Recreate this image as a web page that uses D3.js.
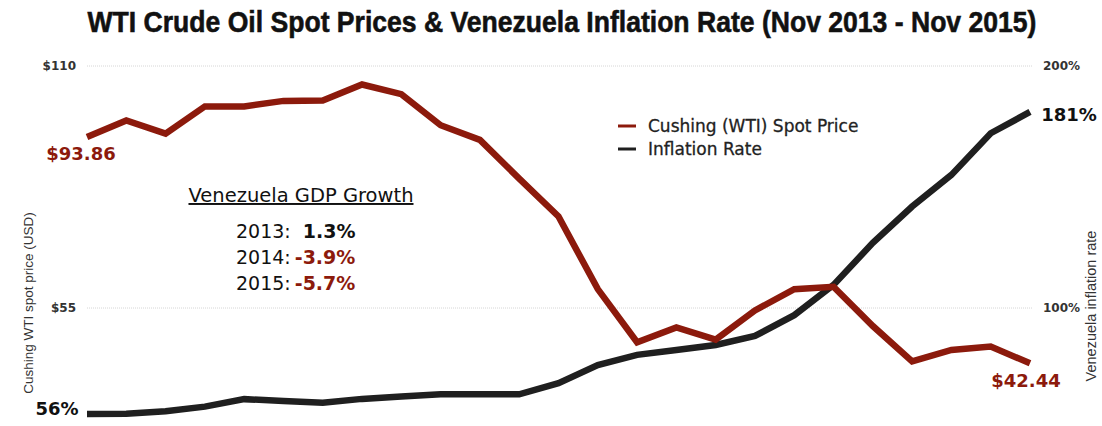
<!DOCTYPE html>
<html>
<head>
<meta charset="utf-8">
<script src="https://cdn.jsdelivr.net/npm/d3@7"></script>
<style>
  html, body { margin: 0; padding: 0; background: #fff; }
  svg { display: block; }
</style>
</head>
<body>
<svg id="chart" width="1102" height="426"></svg>
<script>
// ---- Data ----
const months = ["Nov 2013","Dec 2013","Jan 2014","Feb 2014","Mar 2014","Apr 2014","May 2014","Jun 2014",
  "Jul 2014","Aug 2014","Sep 2014","Oct 2014","Nov 2014","Dec 2014","Jan 2015","Feb 2015","Mar 2015",
  "Apr 2015","May 2015","Jun 2015","Jul 2015","Aug 2015","Sep 2015","Oct 2015","Nov 2015"];
const wtiPrice = [93.86, 97.63, 94.62, 100.82, 100.80, 102.07, 102.18, 105.79, 103.59, 96.54, 93.21,
  84.40, 75.79, 59.29, 47.22, 50.58, 47.82, 54.45, 59.27, 59.82, 50.90, 42.87, 45.48, 46.22, 42.44];
const inflation = [56.2, 56.3, 57.3, 59.2, 62.3, 61.5, 60.8, 62.4, 63.4, 64.3, 64.3, 64.3, 68.9, 76.4,
  80.6, 82.6, 84.7, 88.4, 97.0, 109.5, 126.9, 141.9, 155.0, 172.2, 181.0];
const priceTicks = [55, 110];
const inflationTicks = [100, 200];
const gdpYears = ["2013:", "2014:", "2015:"];
const gdpGrowth = [1.3, -3.9, -5.7];
const seriesNames = ["Cushing (WTI) Spot Price", "Inflation Rate"];

const RED = "#8c1a0c", BLACK = "#1f1f1f";
const FONT = "'DejaVu Sans', Verdana, sans-serif";
const ARIAL = "'Liberation Sans', Arial, sans-serif";

const svg = d3.select("#chart");

const x = d3.scalePoint().domain(months).range([87, 1030]);
const yL = d3.scaleLinear().domain([30, 110]).range([418, 66]);
const yR = d3.scaleLinear().domain([54.5, 200]).range([418, 66]);

// Title (condensed by horizontal scaling)
const tg = svg.append("g");
const title = tg.append("text")
  .attr("x", 0).attr("y", 0).attr("text-anchor", "middle")
  .style("font-family", ARIAL)
  .style("font-weight", "bold").style("font-size", "30px").attr("fill", "#111")
  .attr("stroke", "#111").attr("stroke-width", 0.6)
  .text("WTI Crude Oil Spot Prices & Venezuela Inflation Rate (Nov 2013 - Nov 2015)");
{
  const w = title.node().getComputedTextLength();
  const sx = 949 / w;
  tg.attr("transform", `translate(562,32) scale(${sx},1)`);
}

// Gridlines
svg.append("g").selectAll("line").data(priceTicks).join("line")
  .attr("x1", 87).attr("x2", 1032)
  .attr("y1", d => yL(d)).attr("y2", d => yL(d))
  .attr("stroke", "#d6d6d6").attr("stroke-width", 1).attr("stroke-dasharray", "1,1");

// Left axis
const axL = svg.append("g").attr("transform", "translate(80,0)")
  .call(d3.axisLeft(yL).tickValues(priceTicks).tickSize(0).tickPadding(4).tickFormat(d => "$" + d));
axL.select(".domain").remove();
axL.selectAll("text").style("font-family", FONT).style("font-size", "12px")
  .style("font-weight", "bold").attr("fill", "#333");

// Right axis
const axR = svg.append("g").attr("transform", "translate(1040,0)")
  .call(d3.axisRight(yR).tickValues(inflationTicks).tickSize(0).tickPadding(3).tickFormat(d => d + "%"));
axR.select(".domain").remove();
axR.selectAll("text").style("font-family", FONT).style("font-size", "12px")
  .style("font-weight", "bold").attr("fill", "#333");

// Axis titles
svg.append("text").attr("transform", "translate(33,303) rotate(-90)")
  .attr("text-anchor", "middle").style("font-family", ARIAL).style("font-size", "13.5px")
  .attr("fill", "#333").text("Cushing WTI spot price (USD)");
svg.append("text").attr("transform", "translate(1096,306) rotate(-90)")
  .attr("text-anchor", "middle").style("font-family", ARIAL).style("font-size", "14.5px")
  .attr("fill", "#333").text("Venezuela inflation rate");

// Lines
const lineL = d3.line().x((d, i) => x(months[i])).y(d => yL(d));
const lineR = d3.line().x((d, i) => x(months[i])).y(d => yR(d));
svg.append("path").datum(inflation).attr("d", lineR).attr("fill", "none")
  .attr("stroke", BLACK).attr("stroke-width", 6.5).attr("stroke-linejoin", "miter");
svg.append("path").datum(wtiPrice).attr("d", lineL).attr("fill", "none")
  .attr("stroke", RED).attr("stroke-width", 6.5).attr("stroke-linejoin", "miter");

// End labels
const bold18 = sel => sel.style("font-family", FONT).style("font-weight", "bold").style("font-size", "18px");
svg.append("text").attr("x", 81).attr("y", 160).attr("text-anchor", "middle")
  .attr("fill", RED).call(bold18).text("$" + wtiPrice[0].toFixed(2));
svg.append("text").attr("x", 1026).attr("y", 387).attr("text-anchor", "middle")
  .attr("fill", RED).call(bold18).text("$" + wtiPrice[wtiPrice.length - 1].toFixed(2));
svg.append("text").attr("x", 57).attr("y", 415).attr("text-anchor", "middle")
  .attr("fill", "#111").call(bold18).text(Math.round(inflation[0]) + "%");
svg.append("text").attr("x", 1069).attr("y", 121).attr("text-anchor", "middle")
  .attr("fill", "#111").call(bold18).text(Math.round(inflation[inflation.length - 1]) + "%");

// Legend
const legColors = [RED, BLACK];
const leg = svg.append("g").selectAll("g").data(seriesNames).join("g")
  .attr("transform", (d, i) => `translate(618,${126 + i * 23})`);
leg.append("line").attr("x1", 0).attr("x2", 18).attr("y1", 0).attr("y2", 0)
  .attr("stroke", (d, i) => legColors[i]).attr("stroke-width", 3);
leg.append("text").attr("x", 30).attr("y", 6).style("font-family", FONT)
  .style("font-size", "17px").attr("fill", "#222")
  .attr("stroke", "#222").attr("stroke-width", 0.3).text(d => d);

// GDP box
svg.append("text").attr("x", 301).attr("y", 202).attr("text-anchor", "middle")
  .style("font-family", FONT).style("font-size", "19.5px").attr("fill", "#111")
  .style("text-decoration", "underline").text("Venezuela GDP Growth");
const gdp = svg.append("g").selectAll("text").data(gdpYears).join("text")
  .attr("x", 236).attr("y", (d, i) => 238 + i * 26)
  .style("font-family", FONT).style("font-size", "19px").attr("fill", "#111");
gdp.append("tspan").text(d => d);
gdp.append("tspan").attr("dx", (d, i) => i === 0 ? 12 : 4)
  .style("font-weight", "bold")
  .attr("fill", (d, i) => gdpGrowth[i] < 0 ? RED : "#111")
  .text((d, i) => gdpGrowth[i].toFixed(1) + "%");
</script>
</body>
</html>
